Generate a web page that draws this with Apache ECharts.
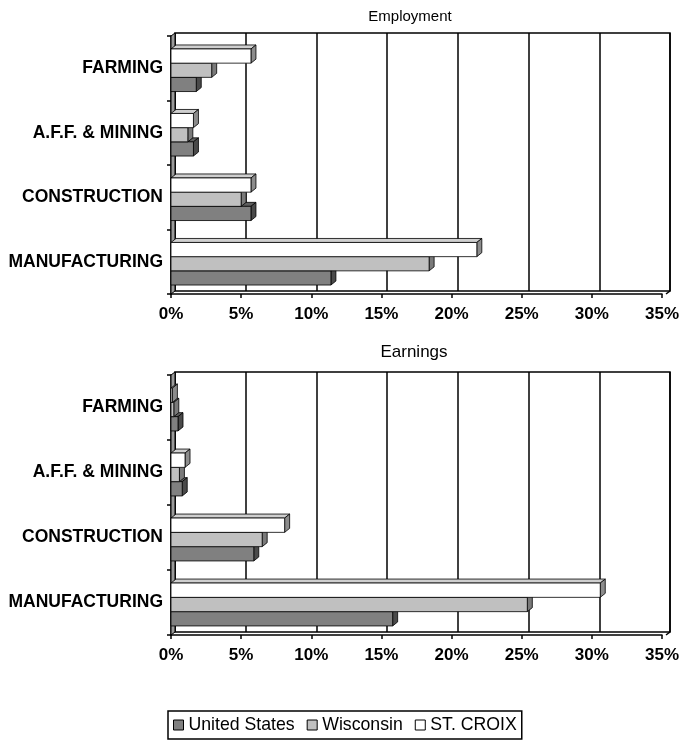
<!DOCTYPE html>
<html>
<head>
<meta charset="utf-8">
<title>St. Croix County: Employment and Earnings</title>
<script src="https://cdn.jsdelivr.net/npm/echarts@6/dist/echarts.min.js"></script>
<style>
  html, body { margin: 0; padding: 0; background: #fff; }
  #chart { width: 682px; height: 744px; }
</style>
</head>
<body>
<div id="chart"></div>
<script>
// Industry categories, listed top to bottom
const categories = ['FARMING', 'A.F.F. & MINING', 'CONSTRUCTION', 'MANUFACTURING'];
const seriesNames = ['United States', 'Wisconsin', 'ST. CROIX'];

// Share of employment (%)
const employmentUS = [1.8, 1.6, 5.7, 11.4];
const employmentWI = [2.9, 1.2, 5.0, 18.4];
const employmentSC = [5.7, 1.6, 5.7, 21.8];

// Share of earnings (%)
const earningsUS = [0.5, 0.8, 5.9, 15.8];
const earningsWI = [0.2, 0.6, 6.5, 25.4];
const earningsSC = [0.1, 1.0, 8.1, 30.6];

// Value axis
const axisMin = 0, axisMax = 35, axisStep = 5;

const FONT = '"Liberation Sans", Arial, sans-serif';

// Face colours per series: front, top, side
const palette = [
  { front: '#808080', top: '#5f5f5f', side: '#4a4a4a' },
  { front: '#c0c0c0', top: '#a6a6a6', side: '#7a7a7a' },
  { front: '#ffffff', top: '#cfcfcf', side: '#8c8c8c' }
];

// Plot geometry: front plane and depth offset of the back wall
const PL = 171, PW = 495, DX = 4, DY = 3;
const panels = [
  { title: 'Employment', top: 36, height: 258, titleX: 410, titleY: 17, titleSize: 15,
    data: [employmentUS, employmentWI, employmentSC] },
  { title: 'Earnings', top: 375, height: 260, titleX: 414, titleY: 352, titleSize: 17,
    data: [earningsUS, earningsWI, earningsSC] }
];

// Bar depth on screen
const BDX = 5, BDY = 4;

function makeRender(slot, colors) {
  return function (params, api) {
    const cat = api.value(1);
    const val = api.value(0);
    const p0 = api.coord([0, cat]);
    const p1 = api.coord([val, cat]);
    const band = api.size([0, 1])[1];
    const h = band * 0.22;
    const groupTop = p0[1] - 1.5 * h + 2;
    const top = groupTop + slot * h;
    const bottom = top + h;
    const x0 = p0[0], x1 = p1[0];
    const stroke = { stroke: '#000', lineWidth: 0.8 };
    return {
      type: 'group',
      children: [
        { type: 'polygon',
          shape: { points: [[x0, top], [x0 + BDX, top - BDY], [x1 + BDX, top - BDY], [x1, top]] },
          style: Object.assign({ fill: colors.top }, stroke) },
        { type: 'polygon',
          shape: { points: [[x1, top], [x1 + BDX, top - BDY], [x1 + BDX, bottom - BDY], [x1, bottom]] },
          style: Object.assign({ fill: colors.side }, stroke) },
        { type: 'rect',
          shape: { x: x0, y: top, width: Math.max(x1 - x0, 0), height: h },
          style: Object.assign({ fill: colors.front }, stroke) }
      ]
    };
  };
}

const grid = [], xAxis = [], yAxis = [], series = [], graphic = [];

panels.forEach(function (p, k) {
  const back = k * 2, front = k * 2 + 1;
  // back wall with vertical grid lines
  grid.push({ left: PL + DX, top: p.top - DY, width: PW, height: p.height,
    show: true, borderColor: '#000', borderWidth: 1.5, backgroundColor: '#fff' });
  // front plane carrying the bars and axes
  grid.push({ left: PL, top: p.top, width: PW, height: p.height });

  xAxis.push({ type: 'value', gridIndex: back, min: axisMin, max: axisMax, interval: axisStep,
    axisLine: { show: false }, axisTick: { show: false }, axisLabel: { show: false },
    splitLine: { show: true, lineStyle: { color: '#000', width: 1.5 } } });
  xAxis.push({ type: 'value', gridIndex: front, min: axisMin, max: axisMax, interval: axisStep,
    axisLine: { show: true, lineStyle: { color: '#000', width: 1.5 } },
    axisTick: { show: true, length: 4, lineStyle: { color: '#000', width: 1.5 } },
    splitLine: { show: false },
    axisLabel: { formatter: '{value}%', color: '#000', fontSize: 17, fontWeight: 'bold',
      fontFamily: FONT, margin: 12 } });

  yAxis.push({ type: 'category', gridIndex: back, data: categories, inverse: true, show: false });
  yAxis.push({ type: 'category', gridIndex: front, data: categories, inverse: true,
    axisLine: { show: true, onZero: false, lineStyle: { color: '#000', width: 1.5 } },
    axisTick: { show: true, length: 4, lineStyle: { color: '#000', width: 1.5 } },
    axisLabel: { color: '#000', fontSize: 17.5, fontWeight: 'bold', fontFamily: FONT, margin: 8 } });

  // US drawn first so the bars above overlap its top face
  p.data.forEach(function (vals, s) {
    series.push({
      type: 'custom',
      name: seriesNames[s],
      xAxisIndex: front,
      yAxisIndex: front,
      z: 3 + s,
      itemStyle: { color: palette[s].front, borderColor: '#000', borderWidth: 1 },
      renderItem: makeRender(2 - s, palette[s]),
      encode: { x: 0, y: 1 },
      data: vals.map(function (v, i) { return [v, i]; })
    });
  });

  const yT = p.top, yB = p.top + p.height;
  // left side wall
  graphic.push({ type: 'polygon', z: 2,
    shape: { points: [[PL, yB], [PL, yT], [PL + DX, yT - DY], [PL + DX, yB - DY]] },
    style: { fill: '#9a9a9a', stroke: '#000', lineWidth: 1 } });
  // floor edge at the right end
  graphic.push({ type: 'polyline', z: 2,
    shape: { points: [[PL + PW, yB], [PL + PW + DX, yB - DY]] },
    style: { stroke: '#000', lineWidth: 1.5 } });
  // panel title
  graphic.push({ type: 'text', x: p.titleX, y: p.titleY, z: 5,
    style: { text: p.title, fill: '#000', fontSize: p.titleSize, fontFamily: FONT,
      align: 'center', verticalAlign: 'middle' } });
});

const chart = echarts.init(document.getElementById('chart'), null, { renderer: 'canvas' });
chart.setOption({
  backgroundColor: '#fff',
  animation: false,
  grid: grid,
  xAxis: xAxis,
  yAxis: yAxis,
  series: series,
  graphic: graphic,
  legend: {
    left: 168, top: 711,
    orient: 'horizontal',
    data: seriesNames.map(function (n, s) {
      return { name: n, icon: 'rect',
        itemStyle: { color: palette[s].front, borderColor: '#000', borderWidth: 1 } };
    }),
    itemWidth: 10, itemHeight: 10, itemGap: 12,
    padding: [5, 5, 5, 5],
    borderColor: '#000', borderWidth: 1.5,
    textStyle: { color: '#000', fontSize: 17.7, fontFamily: FONT },
    selectedMode: false
  }
});
</script>
</body>
</html>
